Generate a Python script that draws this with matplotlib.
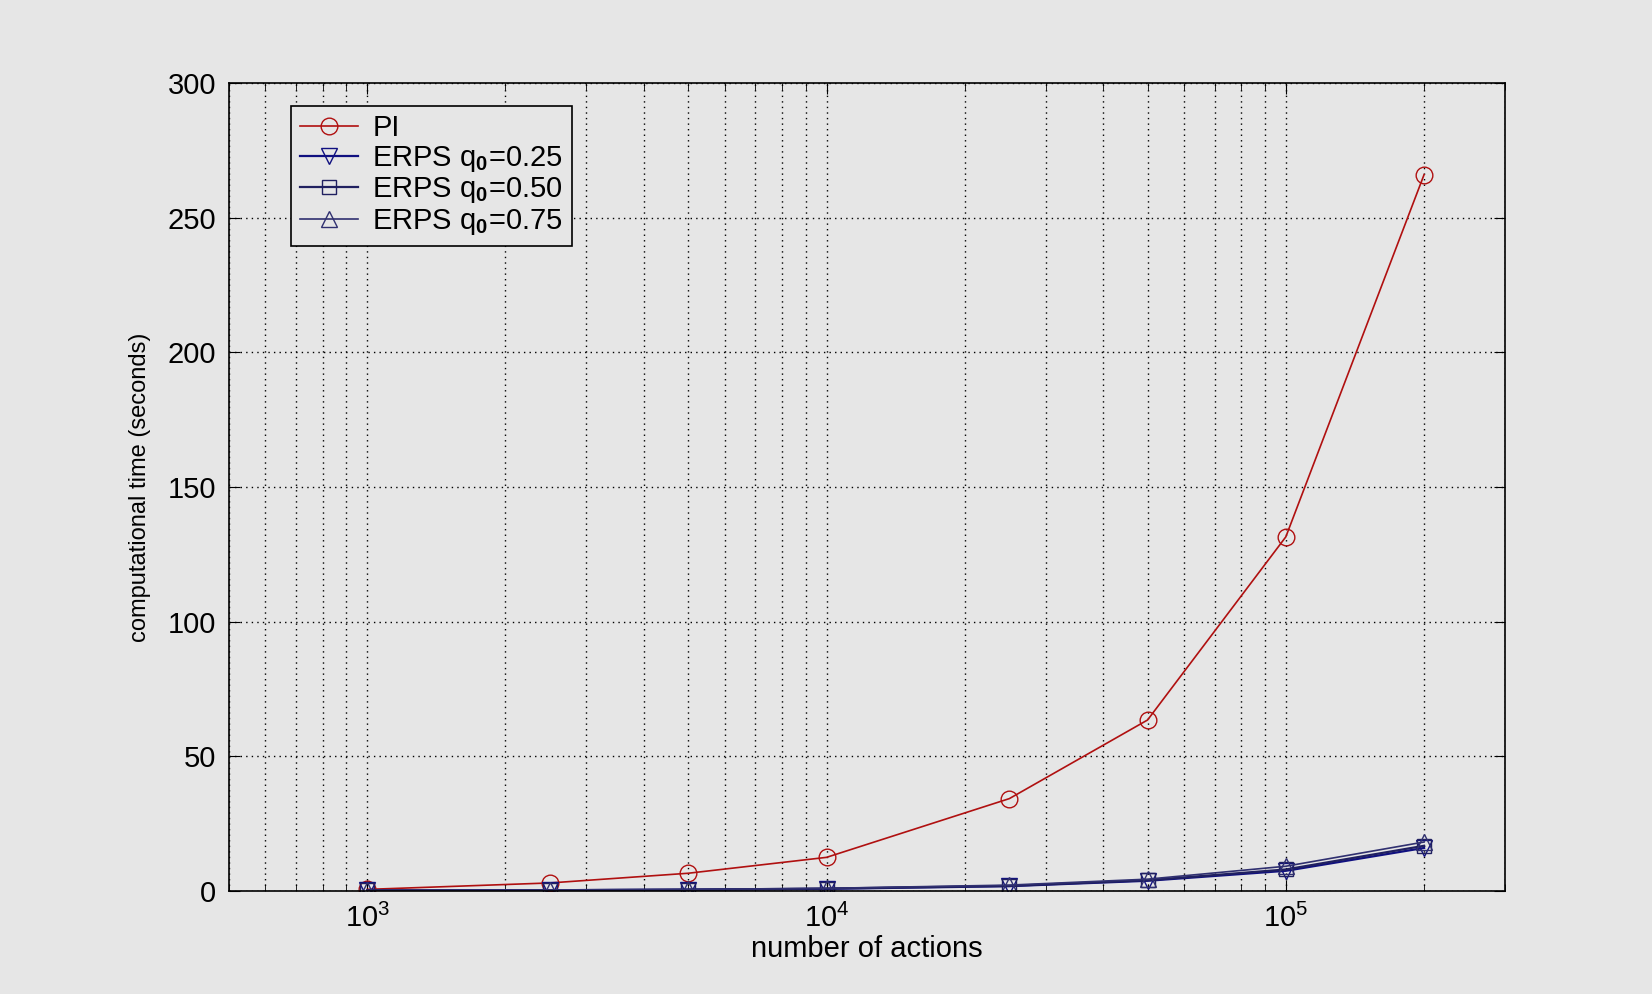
import numpy as np
import matplotlib.pyplot as plt
from matplotlib import font_manager
from matplotlib.ticker import LogLocator, FixedLocator, NullFormatter

# number of actions
n_actions = [1000, 2500, 5000, 10000, 25000, 50000, 100000, 200000]

# computational time (seconds)
t_pi = [0.6, 3.0, 6.6, 12.5, 34.3, 63.5, 131.5, 266.0]
t_q25 = [0.2, 0.3, 0.5, 0.8, 1.8, 3.8, 7.5, 16.0]
t_q50 = [0.2, 0.3, 0.5, 0.9, 1.9, 4.0, 8.0, 16.8]
t_q75 = [0.2, 0.4, 0.6, 1.0, 2.2, 4.4, 9.2, 18.2]

labels = ['PI', 'ERPS q$_\\mathbf{0}$=0.25', 'ERPS q$_\\mathbf{0}$=0.50',
          'ERPS q$_\\mathbf{0}$=0.75']

names = {f.name for f in font_manager.fontManager.ttflist}
base = 'Liberation Sans' if 'Liberation Sans' in names else 'DejaVu Sans'
narrow = 'Liberation Sans Narrow' if 'Liberation Sans Narrow' in names else base
plt.rcParams['font.family'] = [base, 'DejaVu Sans']
plt.rcParams['mathtext.fontset'] = 'custom'
plt.rcParams['mathtext.rm'] = base
plt.rcParams['mathtext.bf'] = base + ':bold'

bg = '#e6e6e6'
fig = plt.figure(figsize=(16.52, 9.94), dpi=100, facecolor=bg)
ax = fig.add_axes([0.1386, 0.1036, 0.7724, 0.8129], facecolor=bg)

red = '#b01010'
blue = '#101080'
ax.plot(n_actions, t_pi, '-o', color=red, mec=red, mfc='none', ms=12, lw=1.2, label=labels[0])
ax.plot(n_actions, t_q25, '-v', color=blue, mec=blue, mfc='none', ms=11, lw=1.6, label=labels[1])
ax.plot(n_actions, t_q50, '-s', color='#202060', mec='#202060', mfc='none', ms=10, lw=1.6, label=labels[2])
ax.plot(n_actions, t_q75, '-^', color='#303070', mec='#303070', mfc='none', ms=11, lw=1.2, label=labels[3])

ax.set_xscale('log')
ax.set_xlim(500, 3e5)
ax.set_ylim(0, 300)
ax.yaxis.set_major_locator(FixedLocator([0, 50, 100, 150, 200, 250, 300]))
ax.xaxis.set_major_locator(LogLocator(base=10, numticks=10))
ax.xaxis.set_minor_locator(LogLocator(base=10, subs=np.arange(2, 10), numticks=20))
ax.xaxis.set_minor_formatter(NullFormatter())

ax.grid(True, which='both', axis='x', color='black', linestyle=(0, (1, 3)), lw=1.0)
ax.grid(True, which='major', axis='y', color='black', linestyle=(0, (1, 3)), lw=1.0)
ax.tick_params(which='both', direction='in', top=True, right=True, color='black')
ax.tick_params(which='major', length=8, labelsize=21, pad=9)
ax.tick_params(which='minor', length=5)
for s in ax.spines.values():
    s.set_color('black')
    s.set_linewidth(1.2)

ax.set_xlabel('number of actions', fontsize=21, labelpad=2)
ax.set_ylabel('computational time (seconds)', fontsize=17, family=[narrow, 'DejaVu Sans'], labelpad=12)

leg = ax.legend(loc='upper left', bbox_to_anchor=(0.037, 0.99), fontsize=21, frameon=True,
                fancybox=False, edgecolor='black', facecolor=bg, framealpha=1,
                handlelength=2.0, labelspacing=0.05, borderpad=0.3, handletextpad=0.5)
leg.get_frame().set_linewidth(1.2)

fig.savefig('out.png', dpi=100, facecolor=bg)
